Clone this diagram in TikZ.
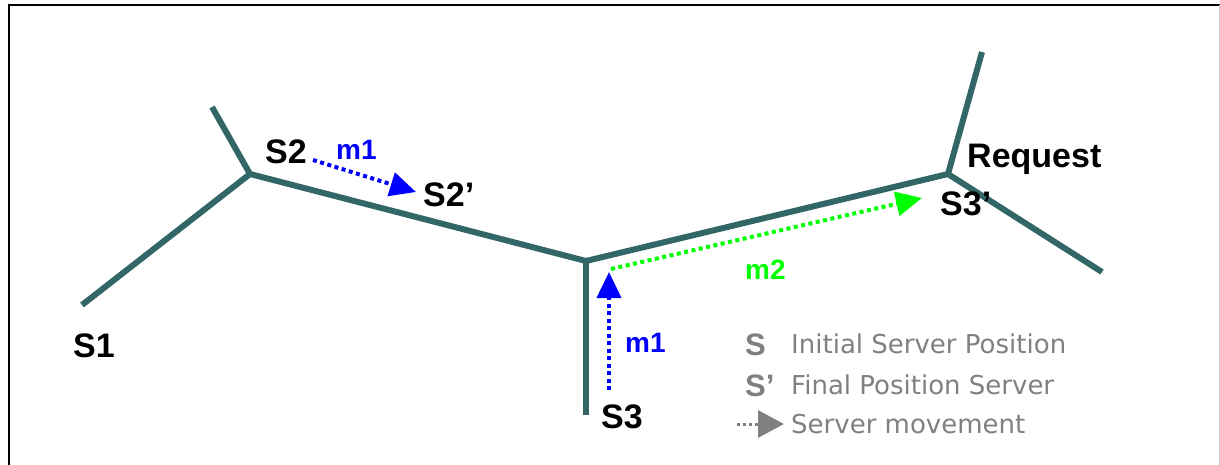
\documentclass[tikz,border=0pt]{standalone}
\usepackage{fontspec}
\setmainfont{Liberation Sans}
\newfontfamily\legendfont{DejaVu Sans}
\usetikzlibrary{arrows.meta}
\definecolor{road}{RGB}{51,102,102}
\definecolor{movegreen}{RGB}{0,255,0}
\definecolor{legendgray}{RGB}{128,128,128}
\tikzset{
  road/.style={draw=road, line width=6pt},
  move/.style={line width=4pt, dash pattern=on 4pt off 3.5pt,
    -{Triangle[length=26pt,width=24pt]}},
  lbl/.style={anchor=base west, inner sep=0pt, font=\bfseries\fontsize{34}{38}\selectfont},
  mlbl/.style={anchor=base west, inner sep=0pt, font=\bfseries\fontsize{28}{32}\selectfont},
  legsym/.style={anchor=base west, inner sep=0pt, text=legendgray, font=\bfseries\fontsize{31}{34}\selectfont},
  legtxt/.style={anchor=base west, inner sep=0pt, text=legendgray, font=\legendfont\fontsize{26}{30}\selectfont}
}
\begin{document}
\begin{tikzpicture}[x=1pt,y=-1pt]
  \useasboundingbox (0,0) rectangle (1220,465);
  % frame
  \draw[line width=2.5pt, black] (9,465) -- (9,5) -- (1220,5);
  \draw[line width=1pt, black!20] (1219,5) -- (1219,465);

  % network junctions and ends
  \coordinate (A)  at (250,174);
  \coordinate (Au) at (212,107);
  \coordinate (Ad) at (82,305);
  \coordinate (B)  at (586,261);
  \coordinate (Bd) at (586,415);
  \coordinate (C)  at (948,174);
  \coordinate (Cu) at (982,52);
  \coordinate (Cd) at (1102,272);

  \draw[road] (Au) -- (A) -- (Ad);
  \draw[road] (A) -- (B) -- (C);
  \draw[road] (B) -- (Bd);
  \draw[road] (Cu) -- (C) -- (Cd);

  % server movements
  \coordinate (m1s) at (313,160);
  \coordinate (m1e) at (416,192);
  \coordinate (m3s) at (609,390);
  \coordinate (m3e) at (609,272);
  \coordinate (m2s) at (611,269);
  \coordinate (m2e) at (922,198);
  \draw[move, blue] (m1s) -- (m1e);
  \draw[move, blue] (m3s) -- (m3e);
  \draw[move, movegreen] (m2s) -- (m2e);

  % labels
  \node[lbl] (s1)  at (73,357)  {S1};
  \node[lbl] (s2)  at (265,164) {S2};
  \node[lbl] (s2p) at (423,207) {S2’};
  \node[lbl] (s3)  at (601,428) {S3};
  \node[lbl] (s3p) at (940,215) {S3’};
  \node[lbl] (req) at (967,168) {Request};
  \node[mlbl, text=blue] (lm1a) at (336,160) {m1};
  \node[mlbl, text=blue] (lm1b) at (625,352) {m1};
  \node[mlbl, text=movegreen] (lm2) at (745,279) {m2};

  % legend
  \node[legsym] (ks)  at (745,355) {S};
  \node[legsym] (ksp) at (745,396) {S’};
  \node[legtxt] (kt1) at (791,353) {Initial Server Position};
  \node[legtxt] (kt2) at (791,394) {Final Position Server};
  \node[legtxt] (kt3) at (791,433) {Server movement};
  \coordinate (ka) at (737,424);
  \coordinate (kb) at (784,424);
  \draw[legendgray, line width=3pt, dash pattern=on 3pt off 3pt,
    -{Triangle[length=26pt,width=27pt]}] (ka) -- (kb);
\end{tikzpicture}
\end{document}
